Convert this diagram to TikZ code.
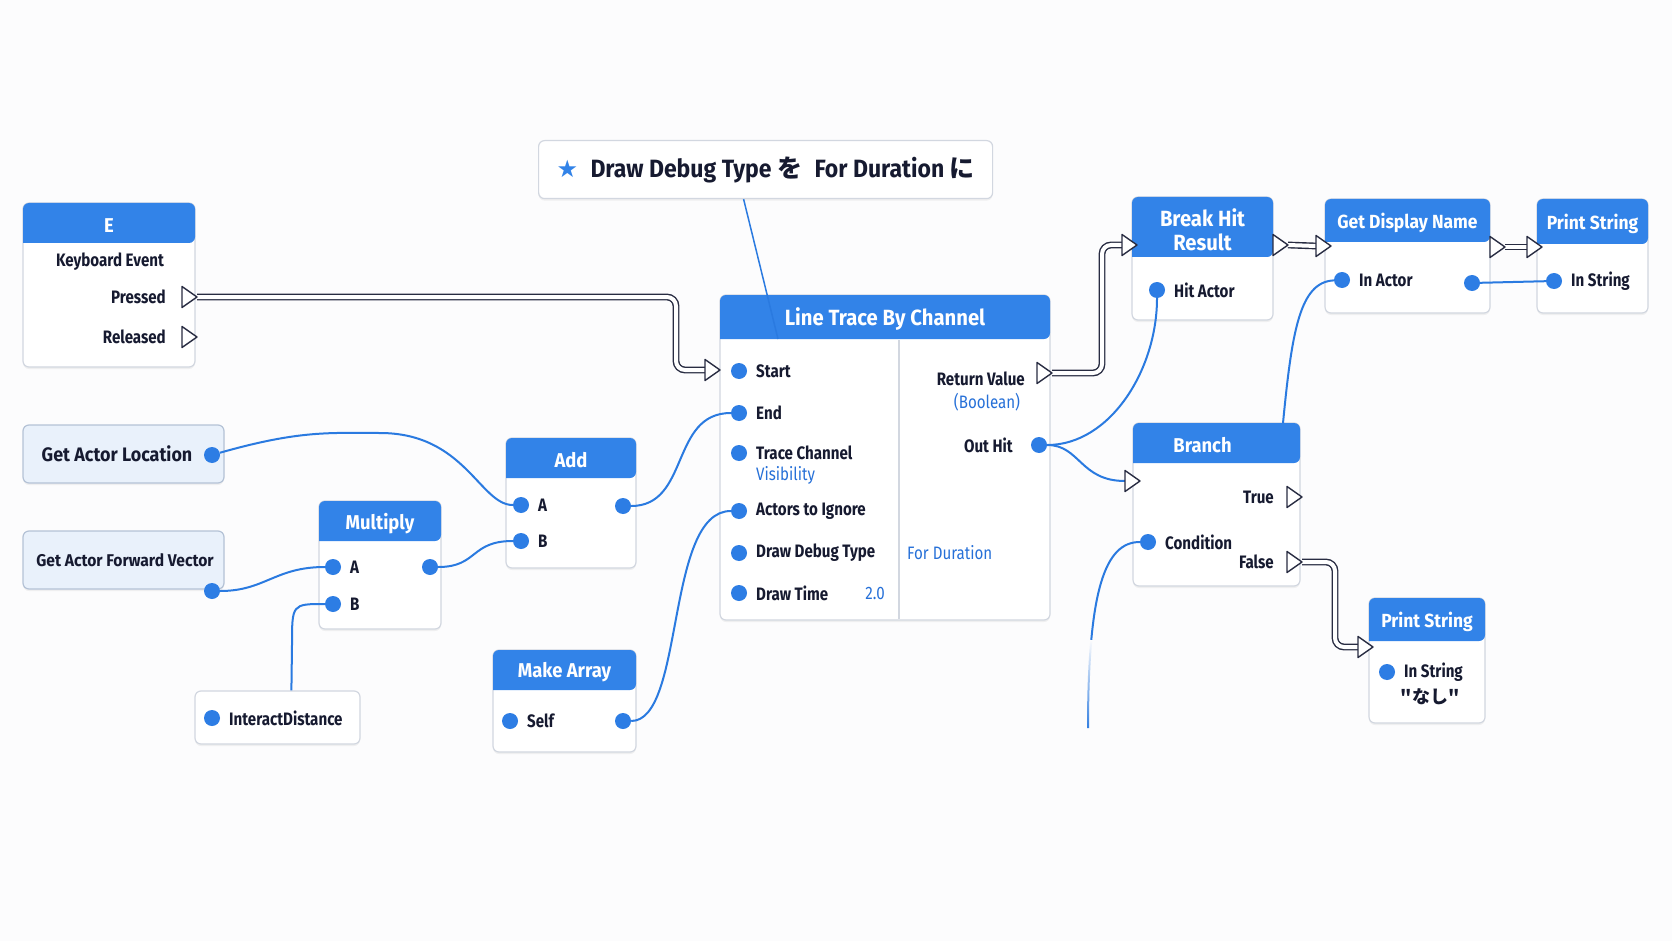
\documentclass[tikz,border=0pt]{standalone}
\usepackage{fontspec}
\setmainfont{Fira Sans}[FakeStretch=0.84]
\newfontfamily\widefont{Fira Sans}[FakeStretch=0.92]
\newfontfamily\cjk{Noto Sans CJK JP}
\newfontfamily\symfont{DejaVu Sans}
\usetikzlibrary{calc,fit,shadows,fadings}
\definecolor{bgpaper}{RGB}{252,252,253}
\definecolor{hdrblue}{RGB}{50,131,232}
\definecolor{pinblue}{RGB}{45,125,228}
\definecolor{wireblue}{RGB}{42,122,224}
\definecolor{txtblue}{RGB}{38,112,216}
\definecolor{inkdark}{RGB}{22,26,48}
\definecolor{boxline}{RGB}{210,215,224}
\definecolor{lightfill}{RGB}{233,241,251}
\definecolor{lightline}{RGB}{180,194,214}
\definecolor{execline}{RGB}{40,44,66}

% node box with blue header: [title opts], name, x1, y1, x2, y2, header bottom, title
\newcommand\bpnode[8][]{%
  \node[bpbox, fit={(#3,#4) (#5,#6)}] (#2) {};
  \fill[hdrblue, rounded corners=6pt] (#3,#7) -- (#3,#4) -- (#5,#4) -- (#5,#7) [sharp corners] -- cycle;
  \node[bptitle, #1] (#2-t) at ($(#3,#4)!.5!(#5,#7)$) {#8};
}
% input pin with its label
\newcommand\inpin[4]{%
  \node[pin] (#1) at (#2,#3) {};
  \node[lbl, anchor=west] (#1-l) at (#2+17,#3) {#4};
}
% exec pin (base centre and tip)
\newcommand\execpin[3]{%
  \coordinate (#1) at (#2,#3);
  \coordinate (#1-tip) at (#2+15,#3);
}

\begin{document}
\begin{tikzpicture}[x=1pt, y=-1pt,
    bpbox/.style={draw=boxline, line width=1.2pt, fill=white, rounded corners=6pt, inner sep=0pt,
      drop shadow={shadow xshift=0pt, shadow yshift=-2pt, opacity=.10}},
    litebox/.style={bpbox, fill=lightfill, draw=lightline},
    bptitle/.style={text=white, font=\widefont\bfseries\fontsize{20}{23}\selectfont, inner sep=0pt, align=center, yshift=-2.5pt},
    bigtitle/.style={font=\widefont\bfseries\fontsize{22}{24}\selectfont},
    lbl/.style={text=inkdark, font=\bfseries\fontsize{18}{20}\selectfont, inner sep=0pt},
    val/.style={text=txtblue, font=\fontsize{18}{20}\selectfont, inner sep=0pt},
    pin/.style={circle, fill=pinblue, inner sep=0pt, minimum size=16pt},
    wire/.style={draw=wireblue, line width=2pt},
    execwire/.style={draw=execline, line width=1.4pt, double=white, double distance=4pt, rounded corners=9pt},
    execpin/.style={draw=execline, fill=white, line width=1.4pt, line join=round}
]
\fill[bgpaper] (0,0) rectangle (1672,941);
\useasboundingbox (0,0) rectangle (1672,941);

% comment
\node[bpbox, minimum width=454pt, minimum height=58pt, anchor=north west, text=inkdark,
  font=\widefont\bfseries\fontsize{25}{27}\selectfont] (cmt) at (538,140)
  {{\color{hdrblue}\symfont\fontsize{24}{26}\selectfont ★}\enspace Draw Debug Type {\cjk を}\enspace For Duration {\cjk に}};

% keyboard event
\bpnode{ev}{23}{203}{195}{367}{243}{E}
\node[lbl] (ev-kb) at (110,262) {Keyboard Event};
\node[lbl, anchor=east] (ev-pr) at (166,297) {Pressed};
\node[lbl, anchor=east] (ev-rl) at (166,337) {Released};
\execpin{ev-pr-x}{182}{297}
\execpin{ev-rl-x}{182}{337}

% line trace
\bpnode[bigtitle]{ltc}{720}{295}{1050}{620}{339}{Line Trace By Channel}
\draw[boxline, line width=1.2pt] (899,340) -- (899,619);
\inpin{ltc-st}{739}{371}{Start}
\inpin{ltc-end}{739}{413}{End}
\inpin{ltc-ch}{739}{453}{Trace Channel}
\node[val, anchor=west] (ltc-vis) at (756,475) {Visibility};
\inpin{ltc-act}{739}{511}{Actors to Ignore}
\inpin{ltc-dbg}{739}{553}{Draw Debug Type}
\inpin{ltc-tm}{739}{593}{Draw Time}
\node[val, anchor=east] (ltc-tmv) at (885,593) {2.0};
\node[val, anchor=west] (ltc-dbgv) at (907,553) {For Duration};
\node[lbl, anchor=east] (ltc-ret) at (1025,379) {Return Value};
\node[val] (ltc-bool) at (987,402) {(Boolean)};
\node[lbl, anchor=east] (ltc-hit) at (1013,445) {Out Hit};
\node[pin] (ltc-out) at (1039,445) {};
\execpin{ltc-st-x}{705}{370}
\execpin{ltc-ret-x}{1037}{373}
\coordinate (ltc-cm) at (778,339);

% break hit result
\bpnode[bigtitle]{bh}{1132}{197}{1273}{320}{257}{Break Hit\\Result}
\inpin{bh-hit}{1157}{290}{Hit Actor}
\execpin{bh-in}{1122}{245}
\execpin{bh-out}{1273}{245}

% get display name
\bpnode{gdn}{1325}{199}{1490}{313}{242}{\fontsize{19}{21}\selectfont Get Display Name}
\inpin{gdn-in}{1342}{280}{In Actor}
\node[pin] (gdn-o) at (1472,283) {};
\execpin{gdn-x}{1316}{246}
\execpin{gdn-out}{1490}{247}

% print string (top)
\bpnode{ps1}{1537}{199}{1648}{313}{244}{\fontsize{19}{21}\selectfont Print String}
\inpin{ps1-str}{1554}{281}{In String}
\execpin{ps1-x}{1527}{247}

% branch
\bpnode[xshift=-14pt]{br}{1133}{423}{1300}{586}{463}{Branch}
\execpin{br-in}{1125}{481}
\node[lbl, anchor=east] (br-true) at (1274,497) {True};
\execpin{br-t}{1287}{497}
\inpin{br-cond}{1148}{542}{Condition}
\node[lbl, anchor=east] (br-false) at (1274,562) {False};
\execpin{br-f}{1287}{562}
\coordinate (br-top) at (1283,423);
\coordinate (br-dangle) at (1088,728);

% print string (bottom)
\bpnode{ps2}{1369}{598}{1485}{723}{641}{\fontsize{19}{21}\selectfont Print String}
\execpin{ps2-x}{1358}{647}
\inpin{ps2-str}{1387}{672}{In String}
\node[lbl] (ps2-val) at (1430,697) {\cjk "なし"};

% left side
\node[litebox, fit={(23,425) (224,483)}] (gal) {};
\node[lbl, font=\widefont\bfseries\fontsize{19.5}{21}\selectfont] (gal-t) at (117,454) {Get Actor Location};
\node[pin] (gal-o) at (212,455) {};
\node[litebox, fit={(23,531) (224,589)}] (gafv) {};
\node[lbl, font=\widefont\bfseries\fontsize{17}{19}\selectfont] (gafv-t) at (125,560) {Get Actor Forward Vector};
\node[pin] (gafv-o) at (212,591) {};

\bpnode{add}{506}{438}{636}{568}{478}{Add}
\inpin{add-a}{521}{505}{A}
\inpin{add-b}{521}{541}{B}
\node[pin] (add-o) at (623,506) {};

\bpnode{mul}{319}{501}{441}{629}{541}{Multiply}
\inpin{mul-a}{333}{567}{A}
\inpin{mul-b}{333}{604}{B}
\node[pin] (mul-o) at (430,567) {};

\node[bpbox, fit={(195,691) (360,744)}] (id) {};
\inpin{id-v}{212}{718}{InteractDistance}

\bpnode{ma}{493}{650}{636}{752}{690}{Make Array}
\inpin{ma-self}{510}{721}{Self}
\node[pin] (ma-o) at (623,721) {};

% data wires
\draw[wire] (gal-o) .. controls (300,430) and (330,433) .. (380,433)
  .. controls (465,433) and (480,505) .. (add-a);
\draw[wire] (gafv-o) .. controls (265,591) and (275,567) .. (mul-a);
\draw[wire] (mul-o) .. controls (478,567) and (470,541) .. (add-b);
\draw[wire] (mul-b) .. controls (292,604) .. (292,645) -- ($(id.north west)+(97,0)$);
\draw[wire] (add-o) .. controls (690,506) and (670,413) .. (ltc-end);
\draw[wire] (ma-o) .. controls (685,721) and (665,511) .. (ltc-act);
\draw[wire] (ltc-out) .. controls (1110,445) and (1157,370) .. (bh-hit);
\draw[wire] (ltc-out) .. controls (1080,445) and (1080,481) .. (br-in);
\draw[wire] (br-top) .. controls (1292,330) and (1300,282) .. (gdn-in);
\draw[wire] (gdn-o) -- (ps1-str);
\draw[wire] (br-cond) .. controls (1105,542) and (1088,590) .. (br-dangle);
\fill[bgpaper, path fading=south] (1070,640) rectangle (1106,732);
\draw[wire, line width=1.5pt] ($(cmt.south)+(-22,0)$) -- (ltc-cm);

% exec wires
\draw[execwire] (ev-pr-x-tip) -- ++(479,0) |- (ltc-st-x);
\draw[execwire] (ltc-ret-x-tip) -- ++(50,0) |- (bh-in);
\draw[execwire] (bh-out-tip) -- (gdn-x);
\draw[execwire] (gdn-out-tip) -- (ps1-x);
\draw[execwire] (br-f-tip) -- ++(33,0) |- (ps2-x);

% exec pins
\foreach \p in {ev-pr-x, ev-rl-x, ltc-st-x, ltc-ret-x, bh-in, bh-out, gdn-x, gdn-out, ps1-x, br-in, br-t, br-f, ps2-x}
  \draw[execpin] (\p) ++(0,-10.5) -- ++(15,10.5) -- ++(-15,10.5) -- cycle;
\end{tikzpicture}
\end{document}
